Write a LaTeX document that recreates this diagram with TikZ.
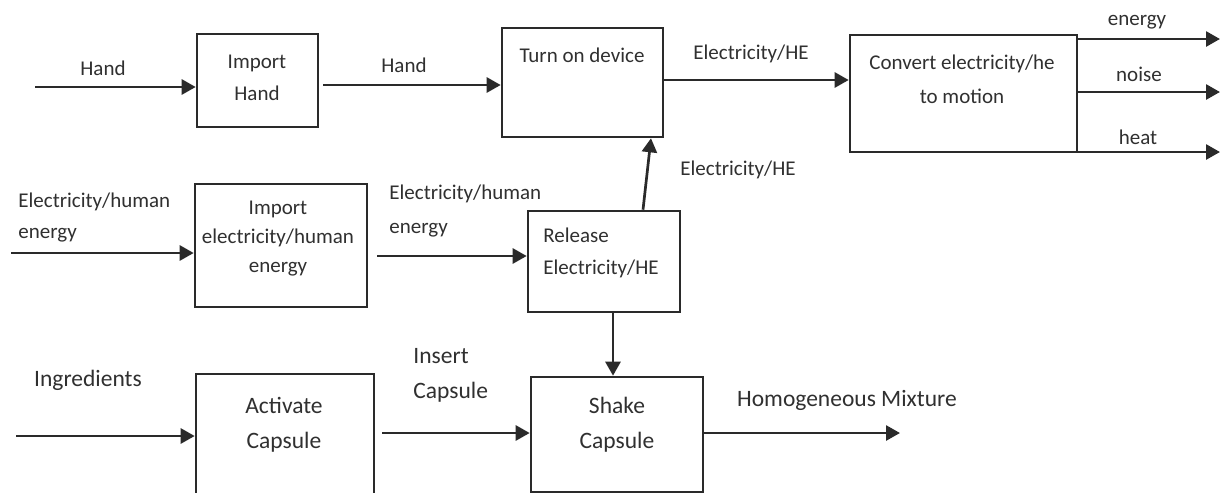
\documentclass[tikz,border=0pt]{standalone}
\usepackage{fontspec}
\setmainfont{Carlito}
\usetikzlibrary{arrows.meta,calc}
\definecolor{txt}{HTML}{303030}
\definecolor{ln}{HTML}{2A2A2A}
\tikzset{
  box/.style={draw=ln,line width=1.3pt,inner sep=0pt,fill=none},
  arr/.style={draw=ln,line width=1.35pt,-{Triangle[length=7pt,width=7.5pt]}},
  small/.style={text=txt,inner sep=0pt,font=\fontsize{10.5}{16}\selectfont},
  big/.style={text=txt,inner sep=0pt,font=\fontsize{11.75}{17.5}\selectfont},
}
\begin{document}
\begin{tikzpicture}[x=0.5pt,y=-0.5pt]
\clip (0,0) rectangle (1222,493);
\fill[white] (0,0) rectangle (1222,493);

% boxes
\node[box,minimum width=60.5pt,minimum height=46.5pt] (importHand) at (257.5,80.5) {};
\node[box,minimum width=80.5pt,minimum height=54.5pt] (turnOn) at (582.5,82.5) {};
\node[box,minimum width=113.5pt,minimum height=58.5pt] (convert) at (963.5,93.5) {};
\node[box,minimum width=86pt,minimum height=61.5pt] (importElec) at (281,245.5) {};
\node[box,minimum width=76pt,minimum height=50.5pt] (release) at (604,261.5) {};
\node[box,minimum width=89pt,minimum height=83pt] (activate) at (285,457) {};
\node[box,minimum width=86pt,minimum height=57.5pt] (shake) at (617,434.5) {};

% box texts
\node[small,align=center] (tImportHand) at (257,78) {Import\\Hand};
\node[small] (tTurnOn) at (582,55) {Turn on device};
\node[small,align=center,font=\fontsize{10.5}{17}\selectfont] (tConvert) at (962,79) {Convert electricity/he\\to motion};
\node[small,align=center,font=\fontsize{10.5}{14.5}\selectfont] (tImportElec) at (278,239) {Import\\electricity/human\\energy};
\node[small,align=left,anchor=west] (tRelease) at (543,253) {Release\\Electricity/HE};
\node[big,align=center] (tActivate) at (284,424.5) {Activate\\Capsule};
\node[big,align=center] (tShake) at (617,425) {Shake\\Capsule};

% connector labels
\node[small] (lHand1) at (103,68) {Hand};
\node[small] (lHand2) at (404,65) {Hand};
\node[small] (lElec1) at (751,54) {Electricity/HE};
\node[small] (lElec2) at (738,170) {Electricity/HE};
\node[small] (lEnergy) at (1137,22) {energy};
\node[small] (lNoise) at (1139,74) {noise};
\node[small] (lHeat) at (1138,137) {heat};
\node[small,align=left,anchor=west,font=\fontsize{10.5}{15.5}\selectfont] (lElecIn) at (18,217.5) {Electricity/human\\energy};
\node[small,align=left,anchor=west,font=\fontsize{10.5}{17}\selectfont] (lElecMid) at (389,211) {Electricity/human\\energy};
\node[big] (lIngr) at (88,380) {Ingredients};
\node[big,align=left,anchor=west] (lInsert) at (413,375.5) {Insert\\Capsule};
\node[big] (lHomog) at (847,400) {Homogeneous Mixture};

% free ends and connector start points
\coordinate (inHand) at (35,87);
\coordinate (inElec) at (11,253);
\coordinate (inIngr) at (16,436);
\coordinate (outEnergy) at (1220,39);
\coordinate (outNoise) at (1220,92);
\coordinate (outHeat) at (1220,152);
\coordinate (outMix) at (900,433);
\coordinate (sHand) at ($(importHand.east)+(4,4.5)$);
\coordinate (sElec) at ($(turnOn.east)+(0,-2.5)$);
\coordinate (sElecMid) at ($(importElec.east)+(9,10.5)$);
\coordinate (sInsert) at ($(activate.east)+(7,-24)$);
\coordinate (sUp) at ($(release.north)+(39,0)$);
\coordinate (eUp) at ($(turnOn.south)+(68.5,0)$);
\coordinate (sDown) at ($(release.south)+(9,0)$);
\coordinate (eDown) at ($(shake.north)+(-4,0)$);

% connectors
\draw[arr] (inHand) -- (inHand -| importHand.west);
\draw[arr] (sHand) -- (sHand -| turnOn.west);
\draw[arr] (sElec) -- (sElec -| convert.west);
\draw[arr] (convert.east |- outEnergy) -- (outEnergy);
\draw[arr] (convert.east |- outNoise) -- (outNoise);
\draw[arr] (convert.east |- outHeat) -- (outHeat);
\draw[arr] (inElec) -- (inElec -| importElec.west);
\draw[arr] (sElecMid) -- (sElecMid -| release.west);
\draw[arr] (sUp) -- (eUp);
\draw[arr] (sDown) -- (eDown);
\draw[arr] (inIngr) -- (inIngr -| activate.west);
\draw[arr] (sInsert) -- (sInsert -| shake.west);
\draw[arr] (shake.east |- outMix) -- (outMix);
\end{tikzpicture}
\end{document}
